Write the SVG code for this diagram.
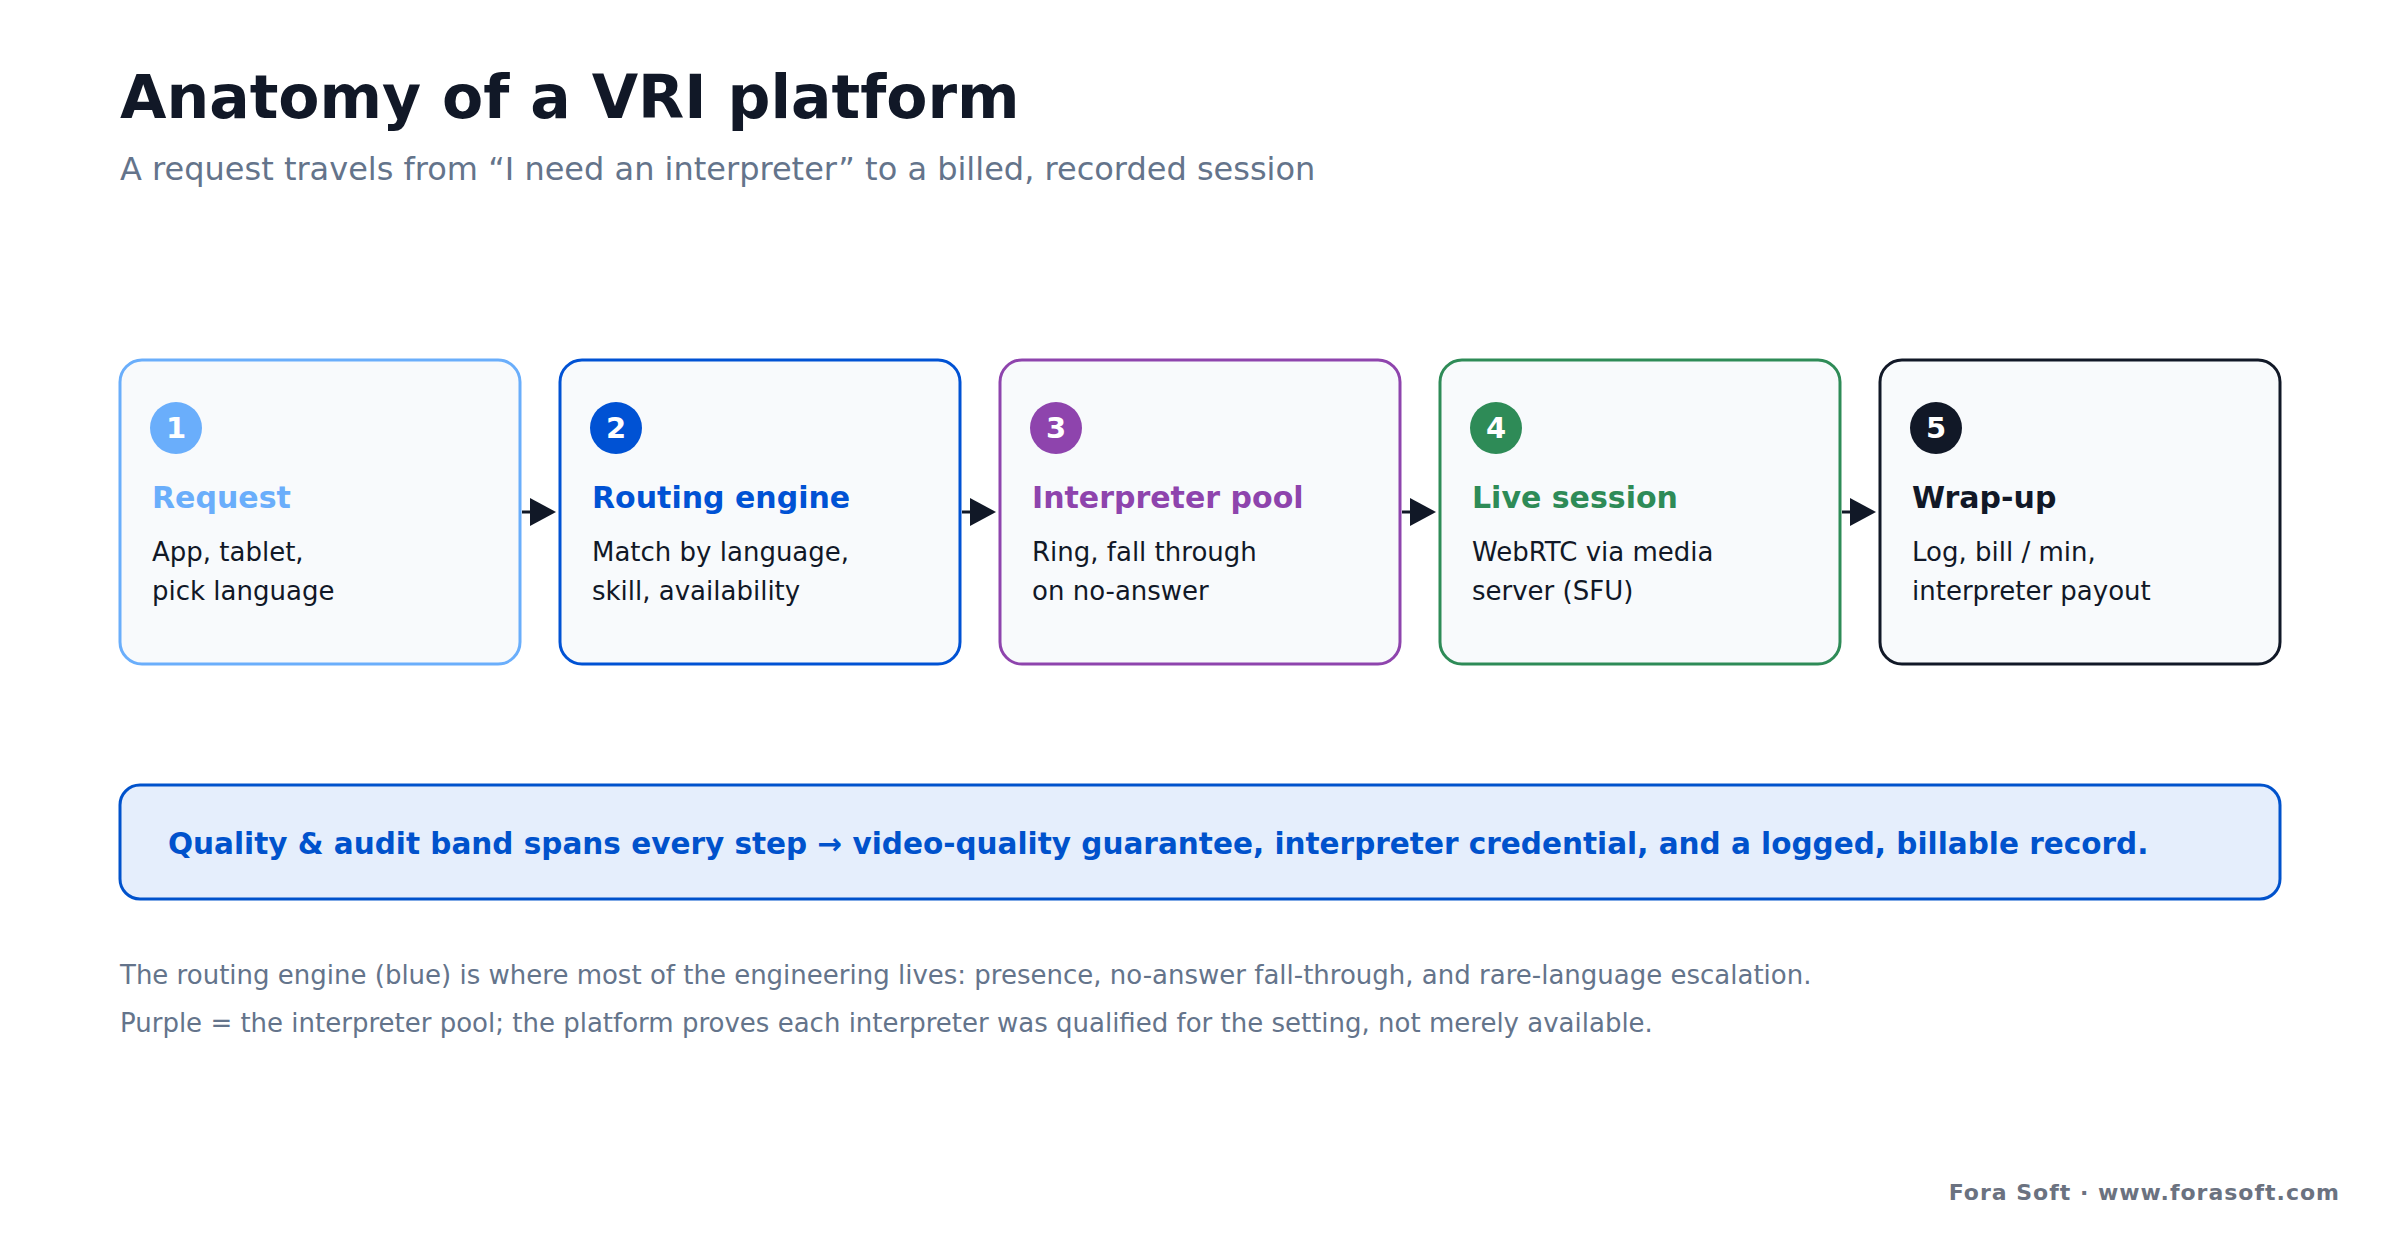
<svg xmlns="http://www.w3.org/2000/svg" width="2400" height="1240" viewBox="0 0 2400 1240">
  <style>
    text { font-family: "DejaVu Sans", "Liberation Sans", sans-serif; }
    .title { font-size: 60px; font-weight: bold; fill: #111827; }
    .subtitle { font-size: 32px; fill: #64748b; }
    .card { fill: #f8fafc; stroke-width: 3; }
    .num { font-size: 29px; font-weight: bold; fill: #ffffff; text-anchor: middle; }
    .ctitle { font-size: 30px; font-weight: bold; }
    .cdesc { font-size: 26px; fill: #111827; }
    .band { fill: #e5eefc; stroke: #0052cc; stroke-width: 3; }
    .bandtext { font-size: 29.5px; font-weight: bold; fill: #0052cc; }
    .note { font-size: 26px; fill: #64748b; }
    .footer { font-size: 22px; font-weight: bold; fill: #6b7280; letter-spacing: 1px; text-anchor: end; }
    .conn { stroke: #111827; stroke-width: 3; fill: none; }
  </style>
  <defs>
    <marker id="arrow" markerUnits="userSpaceOnUse" viewBox="0 0 26 28" markerWidth="26" markerHeight="28" refX="22" refY="14" orient="auto">
      <path d="M0,0 L26,14 L0,28 Z" fill="#111827"/>
    </marker>
  </defs>
  <rect width="2400" height="1240" fill="#ffffff"/>

  <text class="title" x="120" y="118">Anatomy of a VRI platform</text>
  <text class="subtitle" x="120" y="180">A request travels from “I need an interpreter” to a billed, recorded session</text>

  <g id="node-1">
    <rect class="card" x="120" y="360" width="400" height="304" rx="22" stroke="#6aaefb"/>
    <circle cx="176" cy="428" r="26" fill="#6aaefb"/>
    <text class="num" x="176" y="438">1</text>
    <text class="ctitle" x="152" y="508" fill="#6aaefb">Request</text>
    <text class="cdesc" x="152" y="561">App, tablet,</text>
    <text class="cdesc" x="152" y="600">pick language</text>
  </g>
  <g id="node-2">
    <rect class="card" x="560" y="360" width="400" height="304" rx="22" stroke="#0052d4"/>
    <circle cx="616" cy="428" r="26" fill="#0052d4"/>
    <text class="num" x="616" y="438">2</text>
    <text class="ctitle" x="592" y="508" fill="#0052d4">Routing engine</text>
    <text class="cdesc" x="592" y="561">Match by language,</text>
    <text class="cdesc" x="592" y="600">skill, availability</text>
  </g>
  <g id="node-3">
    <rect class="card" x="1000" y="360" width="400" height="304" rx="22" stroke="#8e44ad"/>
    <circle cx="1056" cy="428" r="26" fill="#8e44ad"/>
    <text class="num" x="1056" y="438">3</text>
    <text class="ctitle" x="1032" y="508" fill="#8e44ad">Interpreter pool</text>
    <text class="cdesc" x="1032" y="561">Ring, fall through</text>
    <text class="cdesc" x="1032" y="600">on no-answer</text>
  </g>
  <g id="node-4">
    <rect class="card" x="1440" y="360" width="400" height="304" rx="22" stroke="#2e8b57"/>
    <circle cx="1496" cy="428" r="26" fill="#2e8b57"/>
    <text class="num" x="1496" y="438">4</text>
    <text class="ctitle" x="1472" y="508" fill="#2e8b57">Live session</text>
    <text class="cdesc" x="1472" y="561">WebRTC via media</text>
    <text class="cdesc" x="1472" y="600">server (SFU)</text>
  </g>
  <g id="node-5">
    <rect class="card" x="1880" y="360" width="400" height="304" rx="22" stroke="#111827"/>
    <circle cx="1936" cy="428" r="26" fill="#111827"/>
    <text class="num" x="1936" y="438">5</text>
    <text class="ctitle" x="1912" y="508" fill="#111827">Wrap-up</text>
    <text class="cdesc" x="1912" y="561">Log, bill / min,</text>
    <text class="cdesc" x="1912" y="600">interpreter payout</text>
  </g>

  <g id="connectors">
    <line class="conn" x1="522" y1="512" x2="552" y2="512" marker-end="url(#arrow)"/>
    <line class="conn" x1="962" y1="512" x2="992" y2="512" marker-end="url(#arrow)"/>
    <line class="conn" x1="1402" y1="512" x2="1432" y2="512" marker-end="url(#arrow)"/>
    <line class="conn" x1="1842" y1="512" x2="1872" y2="512" marker-end="url(#arrow)"/>
  </g>

  <g id="band">
    <rect class="band" x="120" y="785" width="2160" height="114" rx="20"/>
    <text class="bandtext" x="168" y="854">Quality &amp; audit band spans every step → video-quality guarantee, interpreter credential, and a logged, billable record.</text>
  </g>

  <text class="note" x="120" y="984">The routing engine (blue) is where most of the engineering lives: presence, no-answer fall-through, and rare-language escalation.</text>
  <text class="note" x="120" y="1032">Purple = the interpreter pool; the platform proves each interpreter was qualified for the setting, not merely available.</text>

  <text class="footer" x="2340" y="1200">Fora Soft · www.forasoft.com</text>
</svg>
